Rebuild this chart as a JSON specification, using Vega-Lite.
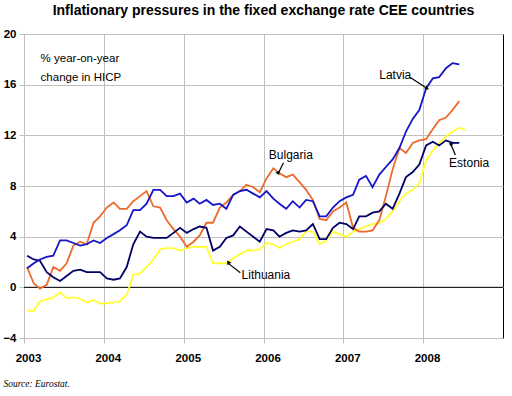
{
  "$schema": "https://vega.github.io/schema/vega-lite/v6.json",
  "width": 479,
  "height": 304,
  "autosize": {"type": "none"},
  "padding": {"left": 24, "top": 34, "right": 9, "bottom": 58},
  "background": "white",
  "title": {
    "text": "Inflationary pressures in the fixed exchange rate CEE countries",
    "font": "Liberation Sans",
    "fontSize": 14,
    "fontWeight": "bold",
    "color": "black",
    "anchor": "middle",
    "offset": 10
  },
  "config": {
    "view": {"stroke": "black", "strokeWidth": 1},
    "font": "Liberation Sans"
  },
  "datasets": {
    "series": [
      {"date": "2003-01-15", "Latvia": 1.5, "Bulgaria": 1.6, "Estonia": 2.5, "Lithuania": -1.85},
      {"date": "2003-02-15", "Latvia": 1.9, "Bulgaria": 0.3, "Estonia": 2.2, "Lithuania": -1.85},
      {"date": "2003-03-15", "Latvia": 2.2, "Bulgaria": -0.1, "Estonia": 2.1, "Lithuania": -1.1},
      {"date": "2003-04-15", "Latvia": 2.4, "Bulgaria": 0.2, "Estonia": 1.2, "Lithuania": -0.95},
      {"date": "2003-05-15", "Latvia": 2.5, "Bulgaria": 1.6, "Estonia": 0.8, "Lithuania": -0.8},
      {"date": "2003-06-15", "Latvia": 3.7, "Bulgaria": 1.3, "Estonia": 0.5, "Lithuania": -0.4},
      {"date": "2003-07-15", "Latvia": 3.7, "Bulgaria": 1.9, "Estonia": 0.9, "Lithuania": -0.85},
      {"date": "2003-08-15", "Latvia": 3.5, "Bulgaria": 3.3, "Estonia": 1.3, "Lithuania": -0.8},
      {"date": "2003-09-15", "Latvia": 3.3, "Bulgaria": 3.6, "Estonia": 1.4, "Lithuania": -0.9},
      {"date": "2003-10-15", "Latvia": 3.4, "Bulgaria": 3.4, "Estonia": 1.2, "Lithuania": -1.2},
      {"date": "2003-11-15", "Latvia": 3.7, "Bulgaria": 5.1, "Estonia": 1.2, "Lithuania": -1.0},
      {"date": "2003-12-15", "Latvia": 3.5, "Bulgaria": 5.6, "Estonia": 1.2, "Lithuania": -1.3},
      {"date": "2004-01-15", "Latvia": 3.9, "Bulgaria": 6.3, "Estonia": 0.7, "Lithuania": -1.25},
      {"date": "2004-02-15", "Latvia": 4.2, "Bulgaria": 6.7, "Estonia": 0.6, "Lithuania": -1.2},
      {"date": "2004-03-15", "Latvia": 4.5, "Bulgaria": 6.2, "Estonia": 0.7, "Lithuania": -1.1},
      {"date": "2004-04-15", "Latvia": 4.9, "Bulgaria": 6.2, "Estonia": 1.6, "Lithuania": -0.6},
      {"date": "2004-05-15", "Latvia": 6.1, "Bulgaria": 6.8, "Estonia": 3.4, "Lithuania": 1.0},
      {"date": "2004-06-15", "Latvia": 6.1, "Bulgaria": 7.2, "Estonia": 4.4, "Lithuania": 1.1},
      {"date": "2004-07-15", "Latvia": 6.6, "Bulgaria": 7.6, "Estonia": 4.0, "Lithuania": 1.6},
      {"date": "2004-08-15", "Latvia": 7.7, "Bulgaria": 6.4, "Estonia": 3.9, "Lithuania": 2.2},
      {"date": "2004-09-15", "Latvia": 7.7, "Bulgaria": 6.3, "Estonia": 3.9, "Lithuania": 3.0},
      {"date": "2004-10-15", "Latvia": 7.2, "Bulgaria": 5.3, "Estonia": 3.9, "Lithuania": 3.1},
      {"date": "2004-11-15", "Latvia": 7.2, "Bulgaria": 4.6, "Estonia": 4.3, "Lithuania": 3.1},
      {"date": "2004-12-15", "Latvia": 7.4, "Bulgaria": 4.0, "Estonia": 4.7, "Lithuania": 2.9},
      {"date": "2005-01-15", "Latvia": 6.7, "Bulgaria": 3.2, "Estonia": 4.3, "Lithuania": 3.1},
      {"date": "2005-02-15", "Latvia": 7.0, "Bulgaria": 3.6, "Estonia": 4.6, "Lithuania": 3.2},
      {"date": "2005-03-15", "Latvia": 6.6, "Bulgaria": 4.1, "Estonia": 4.8, "Lithuania": 3.2},
      {"date": "2005-04-15", "Latvia": 6.9, "Bulgaria": 5.1, "Estonia": 4.7, "Lithuania": 3.2},
      {"date": "2005-05-15", "Latvia": 6.5, "Bulgaria": 5.1, "Estonia": 2.9, "Lithuania": 1.9},
      {"date": "2005-06-15", "Latvia": 6.6, "Bulgaria": 6.3, "Estonia": 3.2, "Lithuania": 1.9},
      {"date": "2005-07-15", "Latvia": 6.2, "Bulgaria": 6.7, "Estonia": 3.9, "Lithuania": 1.9},
      {"date": "2005-08-15", "Latvia": 7.3, "Bulgaria": 7.3, "Estonia": 4.1, "Lithuania": 2.3},
      {"date": "2005-09-15", "Latvia": 7.6, "Bulgaria": 7.6, "Estonia": 4.8, "Lithuania": 2.6},
      {"date": "2005-10-15", "Latvia": 7.7, "Bulgaria": 8.1, "Estonia": 4.4, "Lithuania": 2.9},
      {"date": "2005-11-15", "Latvia": 7.4, "Bulgaria": 7.9, "Estonia": 4.0, "Lithuania": 2.9},
      {"date": "2005-12-15", "Latvia": 7.1, "Bulgaria": 7.5, "Estonia": 3.6, "Lithuania": 3.0},
      {"date": "2006-01-15", "Latvia": 7.6, "Bulgaria": 8.6, "Estonia": 4.6, "Lithuania": 3.5},
      {"date": "2006-02-15", "Latvia": 7.0, "Bulgaria": 9.4, "Estonia": 4.5, "Lithuania": 3.4},
      {"date": "2006-03-15", "Latvia": 6.6, "Bulgaria": 9.0, "Estonia": 4.0, "Lithuania": 3.1},
      {"date": "2006-04-15", "Latvia": 6.2, "Bulgaria": 8.7, "Estonia": 4.3, "Lithuania": 3.4},
      {"date": "2006-05-15", "Latvia": 6.8, "Bulgaria": 8.9, "Estonia": 4.5, "Lithuania": 3.6},
      {"date": "2006-06-15", "Latvia": 6.3, "Bulgaria": 8.3, "Estonia": 4.4, "Lithuania": 3.8},
      {"date": "2006-07-15", "Latvia": 6.9, "Bulgaria": 7.7, "Estonia": 4.5, "Lithuania": 4.4},
      {"date": "2006-08-15", "Latvia": 6.8, "Bulgaria": 6.9, "Estonia": 5.0, "Lithuania": 4.4},
      {"date": "2006-09-15", "Latvia": 5.6, "Bulgaria": 5.4, "Estonia": 3.8, "Lithuania": 3.4},
      {"date": "2006-10-15", "Latvia": 5.6, "Bulgaria": 5.3, "Estonia": 3.8, "Lithuania": 3.7},
      {"date": "2006-11-15", "Latvia": 6.3, "Bulgaria": 6.0, "Estonia": 4.7, "Lithuania": 4.4},
      {"date": "2006-12-15", "Latvia": 6.8, "Bulgaria": 6.3, "Estonia": 5.1, "Lithuania": 4.2},
      {"date": "2007-01-15", "Latvia": 7.1, "Bulgaria": 6.7, "Estonia": 5.0, "Lithuania": 4.0},
      {"date": "2007-02-15", "Latvia": 7.3, "Bulgaria": 4.7, "Estonia": 4.6, "Lithuania": 4.4},
      {"date": "2007-03-15", "Latvia": 8.5, "Bulgaria": 4.4, "Estonia": 5.6, "Lithuania": 4.6},
      {"date": "2007-04-15", "Latvia": 8.8, "Bulgaria": 4.4, "Estonia": 5.6, "Lithuania": 4.8},
      {"date": "2007-05-15", "Latvia": 7.9, "Bulgaria": 4.5, "Estonia": 5.9, "Lithuania": 5.0},
      {"date": "2007-06-15", "Latvia": 8.9, "Bulgaria": 5.3, "Estonia": 6.0, "Lithuania": 5.05},
      {"date": "2007-07-15", "Latvia": 9.5, "Bulgaria": 7.2, "Estonia": 6.6, "Lithuania": 5.4},
      {"date": "2007-08-15", "Latvia": 10.1, "Bulgaria": 9.3, "Estonia": 6.2, "Lithuania": 6.0},
      {"date": "2007-09-15", "Latvia": 11.0, "Bulgaria": 11.0, "Estonia": 7.4, "Lithuania": 6.8},
      {"date": "2007-10-15", "Latvia": 12.3, "Bulgaria": 10.6, "Estonia": 8.7, "Lithuania": 7.4},
      {"date": "2007-11-15", "Latvia": 13.3, "Bulgaria": 11.4, "Estonia": 9.1, "Lithuania": 7.7},
      {"date": "2007-12-15", "Latvia": 14.0, "Bulgaria": 11.6, "Estonia": 9.7, "Lithuania": 8.2},
      {"date": "2008-01-15", "Latvia": 15.7, "Bulgaria": 11.7, "Estonia": 11.2, "Lithuania": 10.0},
      {"date": "2008-02-15", "Latvia": 16.5, "Bulgaria": 12.5, "Estonia": 11.5, "Lithuania": 10.8},
      {"date": "2008-03-15", "Latvia": 16.6, "Bulgaria": 13.2, "Estonia": 11.2, "Lithuania": 11.4},
      {"date": "2008-04-15", "Latvia": 17.3, "Bulgaria": 13.4, "Estonia": 11.6, "Lithuania": 11.9},
      {"date": "2008-05-15", "Latvia": 17.7, "Bulgaria": 14.0, "Estonia": 11.4, "Lithuania": 12.3},
      {"date": "2008-06-15", "Latvia": 17.6, "Bulgaria": 14.7, "Estonia": 11.4, "Lithuania": 12.6},
      {"date": "2008-07-15", "Latvia": null, "Bulgaria": null, "Estonia": null, "Lithuania": 12.4}
    ],
    "labels": [
      {"label": "Latvia", "date": "2007-08-27", "value": 16.8},
      {"label": "Bulgaria", "date": "2006-05-06", "value": 10.45},
      {"label": "Estonia", "date": "2008-07-30", "value": 9.8},
      {"label": "Lithuania", "date": "2006-01-12", "value": 0.97}
    ],
    "notes": [
      {"text": "% year-on-year", "date": "2003-03-18", "value": 18.06},
      {"text": "change in HICP", "date": "2003-03-18", "value": 16.52}
    ],
    "arrows": [
      {"label": "Latvia", "fromDate": "2007-11-04", "fromValue": 16.57, "toDate": "2008-01-20", "toValue": 15.7},
      {"label": "Bulgaria", "fromDate": "2006-04-02", "fromValue": 9.83, "toDate": "2006-03-10", "toValue": 9.0},
      {"label": "Estonia", "fromDate": "2008-05-28", "fromValue": 10.44, "toDate": "2008-05-09", "toValue": 11.23},
      {"label": "Lithuania", "fromDate": "2005-09-17", "fromValue": 1.15, "toDate": "2005-07-24", "toValue": 1.89}
    ]
  },
  "layer": [
    {
      "data": {"values": [{"v": 0}]},
      "mark": {"type": "rule", "color": "black", "strokeWidth": 1},
      "encoding": {"y": {"field": "v", "type": "quantitative"}}
    },
    {
      "data": {"name": "series"},
      "transform": [
        {"fold": ["Lithuania", "Bulgaria", "Estonia", "Latvia"], "as": ["country", "value"]},
        {"filter": "datum.value != null"}
      ],
      "mark": {"type": "line", "strokeWidth": 1.8},
      "encoding": {
        "x": {
          "field": "date",
          "type": "temporal",
          "scale": {"domain": [{"year": 2003, "month": 1, "date": 1}, {"year": 2009, "month": 1, "date": 1}]},
          "axis": {
            "values": [
              {"year": 2003, "month": 1, "date": 1},
              {"year": 2004, "month": 1, "date": 1},
              {"year": 2005, "month": 1, "date": 1},
              {"year": 2006, "month": 1, "date": 1},
              {"year": 2007, "month": 1, "date": 1},
              {"year": 2008, "month": 1, "date": 1}
            ],
            "format": "%Y",
            "labelFont": "Liberation Sans",
            "labelFontSize": 11.5,
            "labelFontWeight": "bold",
            "labelColor": "black",
            "labelOffset": 4,
            "labelPadding": 9,
            "labelFlush": false,
            "labelOverlap": false,
            "tickSize": 5,
            "tickColor": "#c0c0c0",
            "domain": false,
            "grid": true,
            "gridColor": "#c0c0c0",
            "gridOpacity": 1,
            "title": "Source: Eurostat.",
            "titleFont": "Liberation Serif",
            "titleFontStyle": "italic",
            "titleFontWeight": "normal",
            "titleFontSize": 9.5,
            "titleColor": "black",
            "titleAnchor": "start",
            "titleAlign": "left",
            "titleBaseline": "alphabetic",
            "titleX": -21,
            "titleY": 48
          }
        },
        "y": {
          "field": "value",
          "type": "quantitative",
          "scale": {"domain": [-4, 20], "nice": false, "zero": false},
          "axis": {
            "values": [-4, 0, 4, 8, 12, 16, 20],
            "labelFont": "Liberation Sans",
            "labelFontSize": 11.5,
            "labelFontWeight": "bold",
            "labelColor": "black",
            "labelPadding": 3,
            "labelFlush": false,
            "tickSize": 5,
            "tickColor": "#c0c0c0",
            "domain": false,
            "grid": true,
            "gridColor": "#c0c0c0",
            "gridOpacity": 1,
            "title": null
          }
        },
        "color": {
          "field": "country",
          "type": "nominal",
          "scale": {
            "domain": ["Lithuania", "Bulgaria", "Estonia", "Latvia"],
            "range": ["#ffff33", "#ec6a2c", "#000066", "#1414c8"]
          },
          "legend": null
        }
      }
    },
    {
      "data": {"name": "arrows"},
      "mark": {"type": "rule", "color": "black", "strokeWidth": 1.2},
      "encoding": {
        "x": {"field": "fromDate", "type": "temporal"},
        "y": {"field": "fromValue", "type": "quantitative"},
        "x2": {"field": "toDate"},
        "y2": {"field": "toValue"}
      }
    },
    {
      "data": {"name": "arrows"},
      "mark": {"type": "point", "shape": "triangle-up", "filled": true, "color": "black", "size": 22, "opacity": 1},
      "encoding": {
        "x": {"field": "toDate", "type": "temporal"},
        "y": {"field": "toValue", "type": "quantitative"},
        "angle": {
          "field": "label",
          "type": "nominal",
          "scale": {"domain": ["Latvia", "Bulgaria", "Estonia", "Lithuania"], "range": [123, 205, 337, 309]},
          "legend": null
        }
      }
    },
    {
      "data": {"name": "labels"},
      "mark": {"type": "text", "font": "Liberation Sans", "fontSize": 12, "color": "black", "align": "center", "baseline": "middle"},
      "encoding": {
        "x": {"field": "date", "type": "temporal"},
        "y": {"field": "value", "type": "quantitative"},
        "text": {"field": "label"}
      }
    },
    {
      "data": {"name": "notes"},
      "mark": {"type": "text", "font": "Liberation Sans", "fontSize": 11.5, "color": "black", "align": "left", "baseline": "middle"},
      "encoding": {
        "x": {"field": "date", "type": "temporal"},
        "y": {"field": "value", "type": "quantitative"},
        "text": {"field": "text"}
      }
    }
  ]
}
